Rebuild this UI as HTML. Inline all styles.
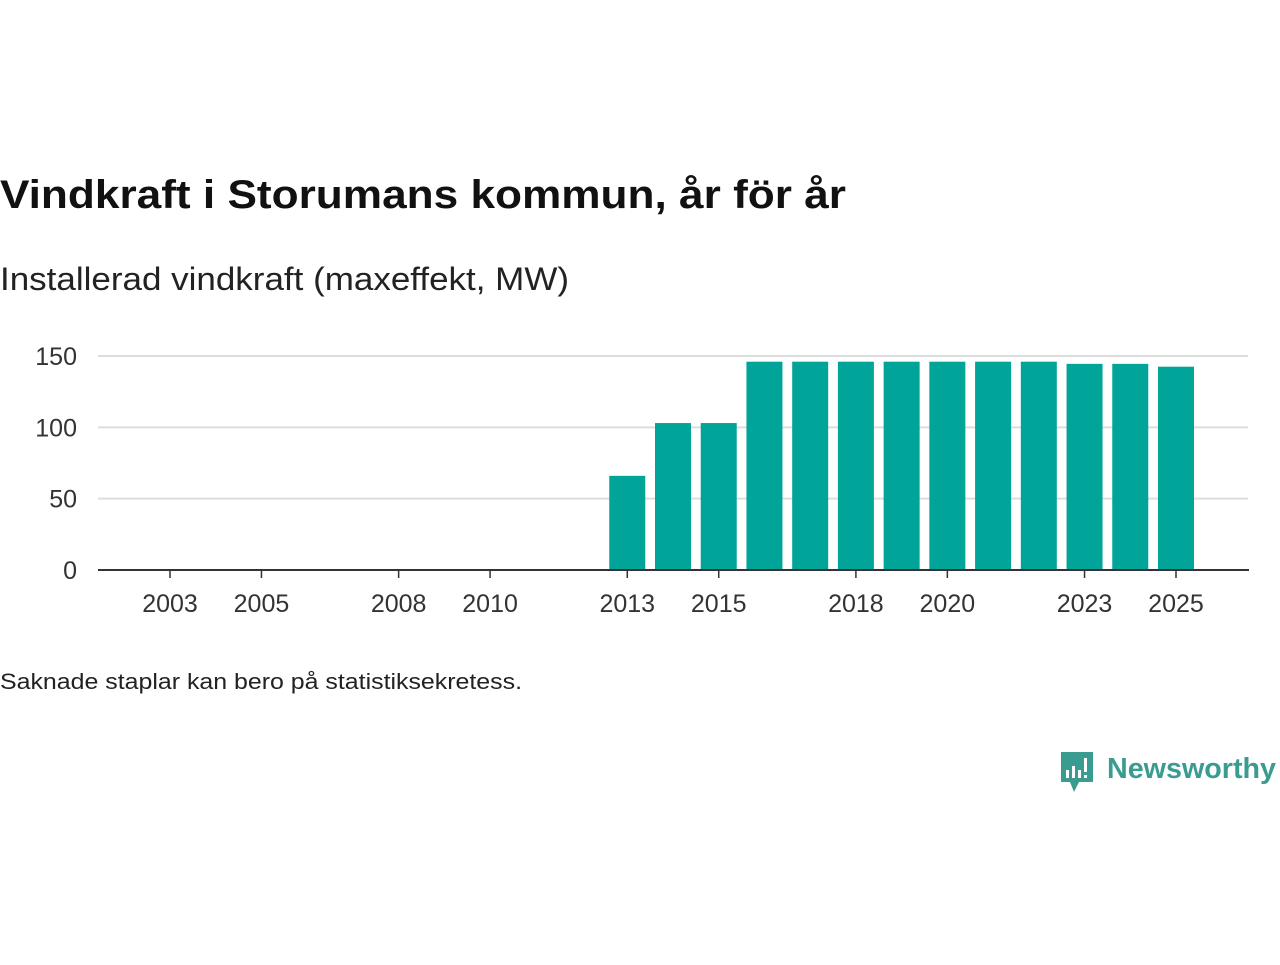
<!DOCTYPE html>
<html><head><meta charset="utf-8"><style>
body{margin:0;width:1280px;height:960px;background:#fff;font-family:"Liberation Sans","DejaVu Sans",sans-serif;overflow:hidden}
</style></head><body>
<svg width="1280" height="960">
<text x="0" y="208" font-size="40" font-weight="bold" fill="#111" textLength="846" lengthAdjust="spacingAndGlyphs">Vindkraft i Storumans kommun, år för år</text>
<text x="0" y="290" font-size="32" fill="#222" textLength="569" lengthAdjust="spacingAndGlyphs">Installerad vindkraft (maxeffekt, MW)</text>
<g id="grid"></g><g id="bars"></g><g id="xt"></g>
<text x="0" y="689" font-size="22" fill="#222" textLength="522" lengthAdjust="spacingAndGlyphs">Saknade staplar kan bero på statistiksekretess.</text>
<g>
<path d="M1061 752h32v30h-14l-5 10-4-10h-9z" fill="#3a9c90"/>
<rect x="1066" y="770" width="3" height="8" fill="#fff"/><rect x="1072" y="766" width="3" height="12" fill="#fff"/><rect x="1078" y="770" width="3" height="8" fill="#fff"/><rect x="1084" y="758" width="3" height="14" fill="#fff"/><rect x="1084" y="775" width="3" height="3" fill="#fff"/>
<text x="1107" y="778" font-size="29" font-weight="bold" fill="#3a9c90" textLength="169" lengthAdjust="spacingAndGlyphs">Newsworthy</text>
</g>
</svg>
<script>
const years=[2013,2014,2015,2016,2017,2018,2019,2020,2021,2022,2023,2024,2025];
const values=[66,103,103,146,146,146,146,146,146,146,144.5,144.5,142.5];
const yTicks=[0,50,100,150];
const xTicks=[2003,2005,2008,2010,2013,2015,2018,2020,2023,2025];
const NS="http://www.w3.org/2000/svg";
const x=y=>170+(y-2003)*45.727;
const yv=v=>570-v*214/150;
function mk(t,a,p){const e=document.createElementNS(NS,t);for(const k in a)e.setAttribute(k,a[k]);p.appendChild(e);return e;}
const g=document.getElementById('grid'),b=document.getElementById('bars'),xt=document.getElementById('xt');
yTicks.forEach(v=>{
 if(v>0){const l=mk('line',{x1:98,x2:1248,y1:yv(v),y2:yv(v),stroke:'#ddd','stroke-width':2},g);
 
 }
 const t=mk('text',{x:77,y:yv(v)+9,'font-size':25,fill:'#333','text-anchor':'end'},g);t.textContent=v;
 
 
});
years.forEach((yr,i)=>{
 const r=mk('rect',{x:x(yr)-18,y:yv(values[i]),width:36,height:570-yv(values[i]),fill:'#00a499'},b);
 
 
});
const ax=mk('line',{x1:98,x2:1249,y1:570,y2:570,stroke:'#333','stroke-width':2},xt);


xTicks.forEach(yr=>{
 mk('line',{x1:x(yr),x2:x(yr),y1:570,y2:578,stroke:'#333','stroke-width':1.5},xt);
 const t=mk('text',{x:x(yr),y:612,'font-size':25,fill:'#333','text-anchor':'middle'},xt);t.textContent=yr;
 
 
});
</script>
</body></html>
